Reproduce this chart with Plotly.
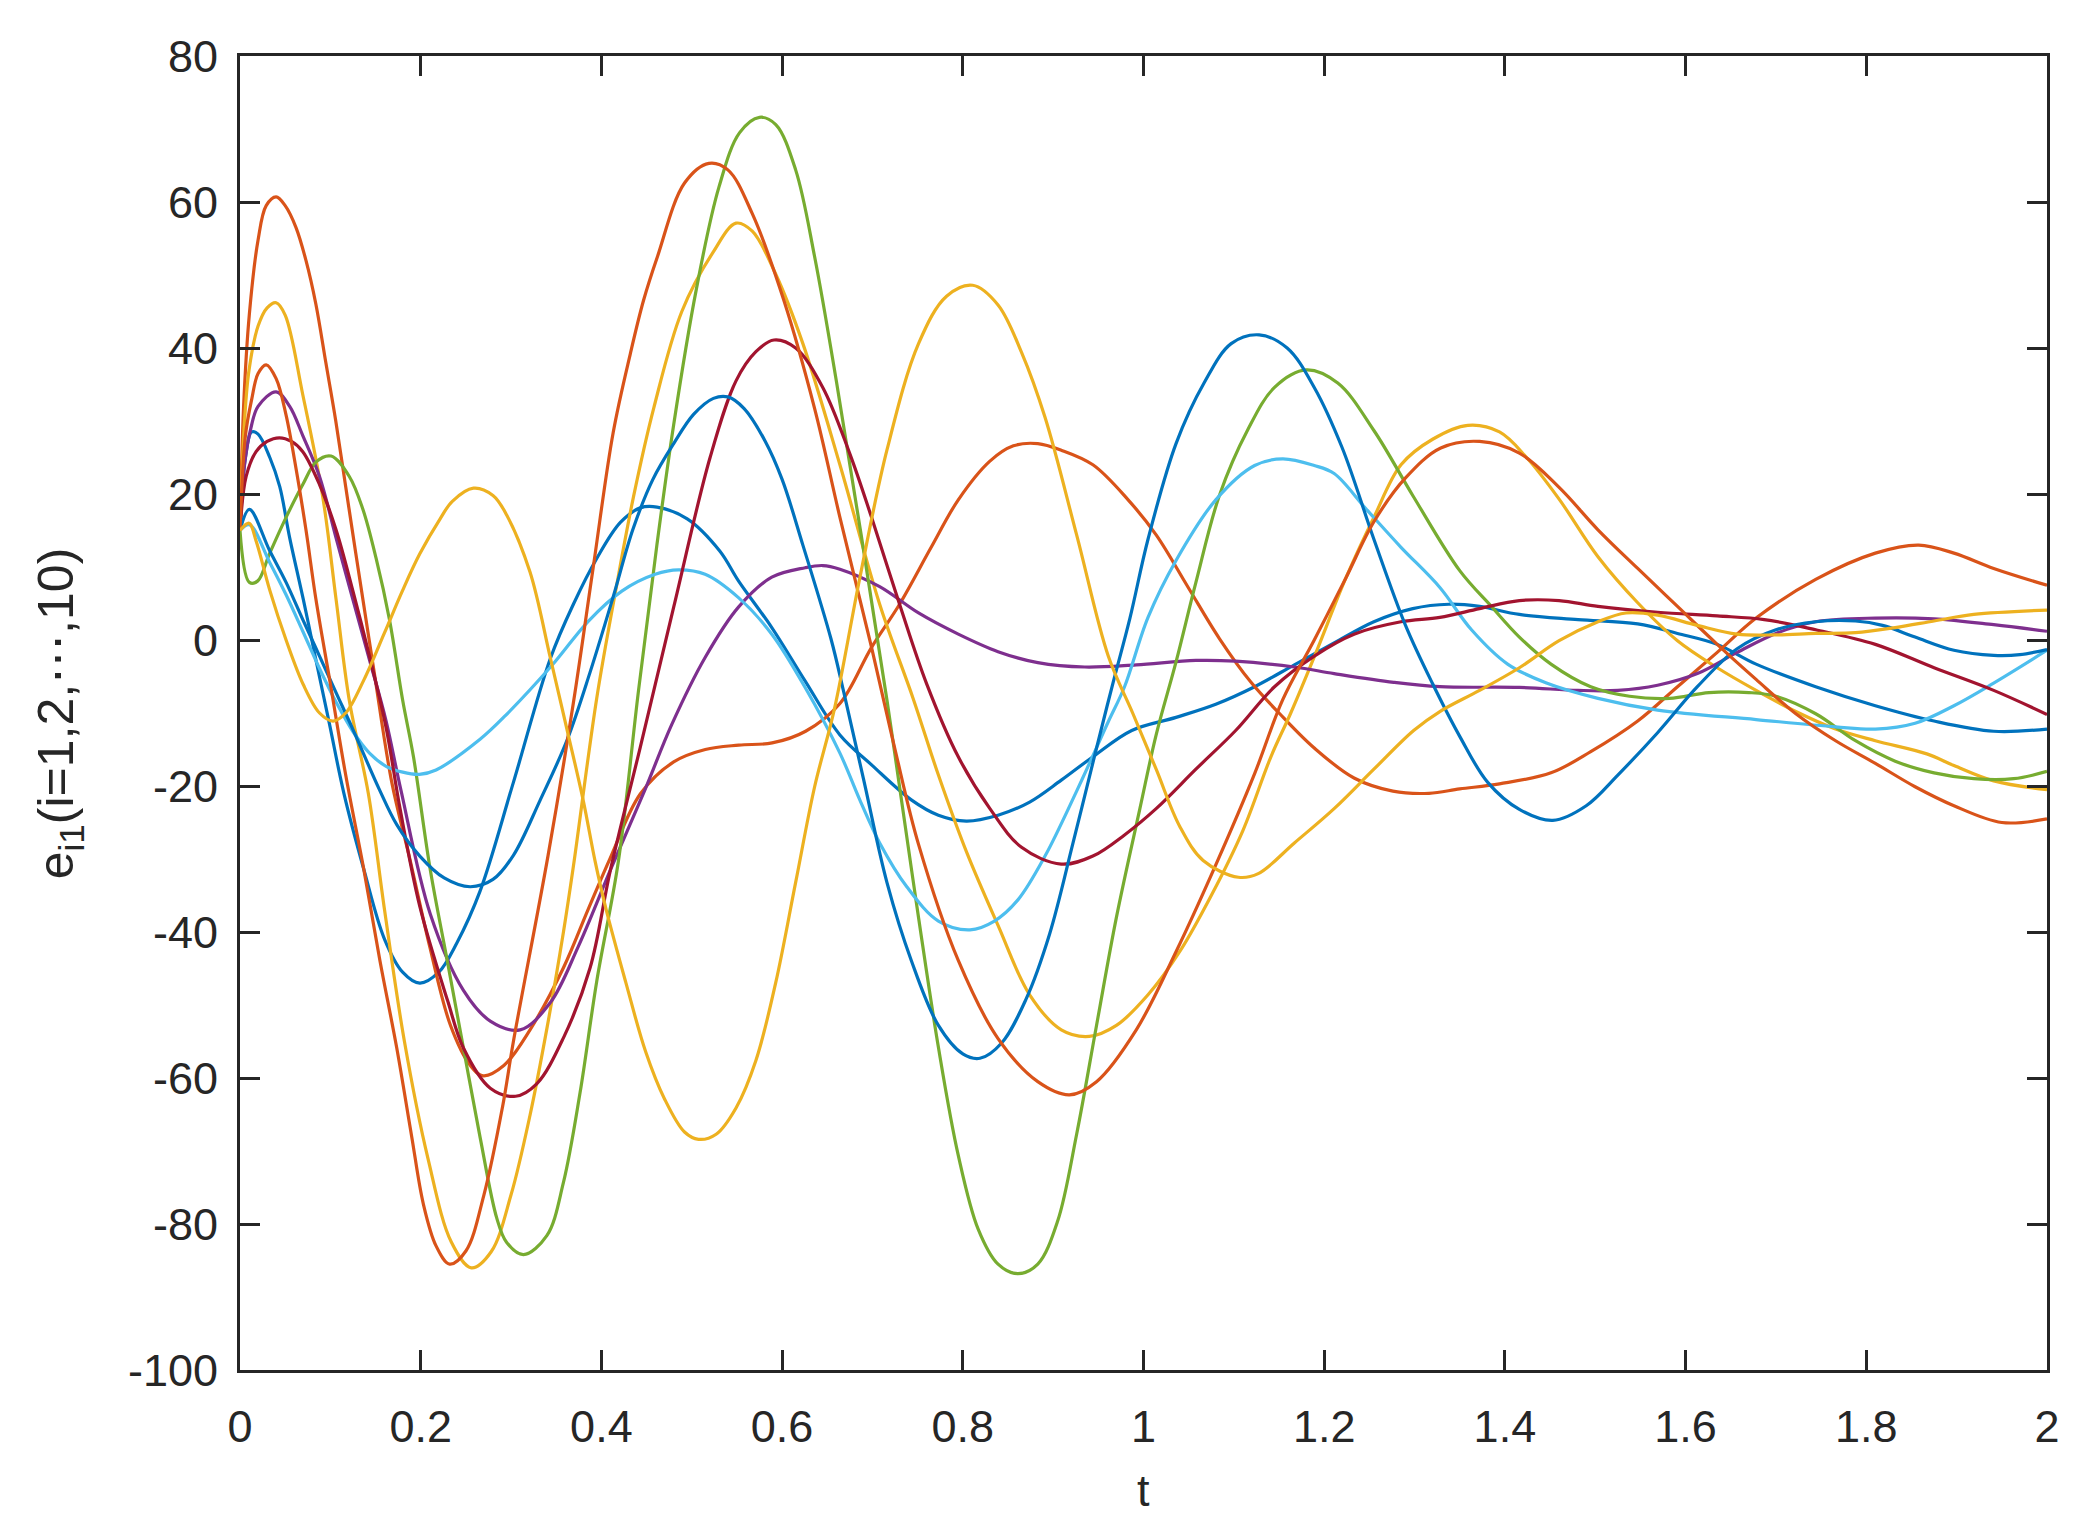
import plotly.graph_objects as go

# --- data: e_i1(t) for i = 1..10 ---
blue_a_t = [0, 0.006, 0.013, 0.02, 0.033, 0.044, 0.055, 0.07, 0.084, 0.099, 0.115, 0.137, 0.16, 0.18, 0.199,
            0.22, 0.24, 0.2657, 0.3026, 0.3436, 0.369, 0.395, 0.421, 0.443, 0.4615, 0.495, 0.531, 0.5517,
            0.5886, 0.6254, 0.664, 0.699, 0.743, 0.773, 0.804, 0.839, 0.874, 0.909, 0.944, 0.987, 1.036,
            1.08, 1.123, 1.167, 1.211, 1.255, 1.298, 1.338, 1.372, 1.416, 1.481, 1.547, 1.591, 1.635,
            1.678, 1.744, 1.81, 1.875, 1.941, 2.0]
blue_a_v = [15, 25, 28.5, 28.2, 25, 21, 14, 5.6, -2.7, -11.5, -21, -31.4, -41, -45.5, -47,
            -45.5, -41.5, -34.4, -19.5, -2.5, 4.9, 11.2, 16.1, 18.1, 18.2, 16.6, 12.2, 8.1,
            1.7, -5.6, -13, -17.1, -21.9, -24, -24.8, -24, -22.2, -19.2, -16, -12.4, -10.6,
            -8.8, -6.4, -3.4, -0.4, 2.5, 4.3, 4.9, 4.6, 3.5, 2.8, 2.2, 0.9, -0.6,
            -3.3, -6.4, -9, -11.1, -12.5, -12.2]

orange_a_t = [0, 0.004, 0.0104, 0.02, 0.029, 0.04, 0.05, 0.062, 0.073, 0.084, 0.095, 0.106, 0.117, 0.128,
              0.148, 0.168, 0.188, 0.21, 0.233, 0.255, 0.269, 0.292, 0.321, 0.358, 0.385, 0.41, 0.443, 0.48,
              0.515, 0.552, 0.589, 0.626, 0.664, 0.699, 0.73, 0.765, 0.795, 0.83, 0.856, 0.883, 0.909, 0.944,
              0.983, 1.014, 1.049, 1.084, 1.119, 1.15, 1.189, 1.233, 1.276, 1.316, 1.35, 1.394, 1.451, 1.495,
              1.547, 1.591, 1.635, 1.678, 1.744, 1.81, 1.858, 1.897, 1.941, 2.0]
orange_a_v = [15, 32, 44.7, 54.8, 59.5, 60.7, 59.5, 56.5, 52, 46, 38, 30, 21, 12,
              -4, -19.5, -30, -42, -52.8, -58.3, -59.7, -58.3, -53.4, -44.9, -37, -29.8, -21.1, -16.7,
              -15, -14.4, -14.1, -12.5, -8.7, -1, 4.9, 12.7, 19.2, 24.5, 26.6, 26.9, 26, 24,
              19.2, 14.4, 7.3, 0.2, -5.8, -10, -14.8, -18.9, -20.7, -21, -20.4, -19.7, -18.2, -15.3,
              -11.1, -6.4, -1.7, 3, 8.3, 11.9, 13, 11.9, 9.8, 7.5]

yellow_a_t = [0, 0.005, 0.01, 0.02, 0.03, 0.04, 0.05, 0.0695, 0.0916, 0.1063, 0.121, 0.142, 0.16, 0.182,
              0.208, 0.234, 0.256, 0.278, 0.30, 0.321, 0.34, 0.358, 0.369, 0.3948, 0.4166, 0.4355, 0.458,
              0.489, 0.523, 0.549, 0.567, 0.593, 0.623, 0.664, 0.708, 0.745, 0.773, 0.804, 0.839, 0.874,
              0.909, 0.94, 0.97, 1.005, 1.04, 1.075, 1.11, 1.141, 1.163, 1.19, 1.224, 1.255, 1.285, 1.32,
              1.359, 1.394, 1.424, 1.46, 1.503, 1.547, 1.591, 1.635, 1.678, 1.722, 1.766, 1.81, 1.867,
              1.897, 1.941, 2.0]
yellow_a_v = [15, 30, 37, 43, 45.5, 46.2, 44.5, 33.6, 19.6, 5.6, -8.3, -21, -37, -55,
              -71, -82.5, -86, -83.8, -76, -65.1, -53, -40, -31, -8, 7.3, 19.6, 31.8,
              45, 53, 57.1, 56, 50.1, 40.6, 24, 4.9, -8, -18.5, -29, -39.1, -48.6,
              -53.4, -54.3, -52.8, -48.6, -42.7, -35, -26.1, -16, -10, -2, 8.5, 16.8, 24, 27.5,
              29.4, 28.5, 25, 19.3, 11.4, 5.1, -0.1, -3.8, -6.9, -9.8, -12.2, -13.8, -15.6,
              -17.2, -19.3, -20.5]

purple_t = [0, 0.005, 0.012, 0.02, 0.04, 0.055, 0.0695, 0.088, 0.1063, 0.1248, 0.1433, 0.1617, 0.178,
            0.2105, 0.2473, 0.277, 0.31, 0.3433, 0.374, 0.41, 0.4483, 0.4778, 0.5148, 0.5517, 0.5886,
            0.6255, 0.645, 0.664, 0.708, 0.751, 0.795, 0.839, 0.883, 0.935, 0.992, 1.058, 1.102, 1.167,
            1.211, 1.277, 1.328, 1.416, 1.481, 1.525, 1.569, 1.613, 1.657, 1.70, 1.744, 1.81, 1.875,
            1.941, 2.0]
purple_v = [15, 24, 29, 32, 34, 32, 28, 22.4, 14, 5.6, -2.7, -11.1, -20.5,
            -37.5, -48, -52.2, -53.4, -49.7, -42.1, -31.5, -20.5, -11.6, -2.4, 4.5, 8.6,
            9.9, 10.2, 9.7, 7.3, 3.7, 0.8, -1.6, -3.1, -3.7, -3.4, -2.8, -2.9, -3.7,
            -4.6, -5.8, -6.4, -6.5, -6.9, -6.9, -6.2, -4.6, -1.7, 0.9, 2.5, 3, 2.9,
            2.1, 1.2]

green_t = [0, 0.0104, 0.0197, 0.0326, 0.051, 0.0695, 0.0842, 0.1008, 0.121, 0.136, 0.1506, 0.1654, 0.1801,
           0.192, 0.2105, 0.2289, 0.2473, 0.2657, 0.2842, 0.295, 0.3137, 0.3396, 0.358, 0.3764, 0.3949,
           0.4188, 0.441, 0.4614, 0.48, 0.505, 0.53, 0.553, 0.575, 0.593, 0.615, 0.636, 0.66, 0.716, 0.73,
           0.751, 0.773, 0.795, 0.817, 0.839, 0.861, 0.883, 0.905, 0.926, 0.948, 0.97, 0.996, 1.014,
           1.036, 1.058, 1.084, 1.115, 1.145, 1.18, 1.215, 1.255, 1.298, 1.35, 1.385, 1.416, 1.451,
           1.495, 1.538, 1.582, 1.626, 1.67, 1.70, 1.744, 1.788, 1.832, 1.875, 1.919, 1.963, 2.0]
green_v = [15, 7.9, 8.1, 11.8, 16.8, 21.3, 24.4, 25.2, 22.4, 17.9, 11.2, 2.8, -8.3,
           -16, -31.4, -43.6, -55.9, -68.1, -79.2, -82.5, -84.2, -81.6, -74.3, -62, -46.7,
           -30.3, -7, 13, 29.5, 48, 62, 69.5, 71.6, 70.6, 64.4, 52.5, 35.5, -8.2, -20.1,
           -38, -55.8, -70.6, -80.7, -85.5, -86.8, -85.5, -79.6, -67.7, -52.8, -38, -23.1, -13,
           -3, 7.9, 19.8, 28.7, 34.6, 37, 35.2, 28.7, 19.8, 9.5, 4.6, 0.4, -3.3,
           -6.4, -7.7, -8, -7.2, -7.2, -7.7, -10.1, -13.8, -16.6, -18.2, -19, -19, -18]

lightblue_t = [0, 0.0104, 0.0326, 0.051, 0.0695, 0.088, 0.1063, 0.1248, 0.1433, 0.1617, 0.1801, 0.1986,
               0.217, 0.2657, 0.2934, 0.3451, 0.3857, 0.4226, 0.4595, 0.4853, 0.5148, 0.5517,
               0.5886, 0.6255, 0.664, 0.686, 0.708, 0.738, 0.773, 0.808, 0.835, 0.861, 0.891, 0.926,
               0.961, 0.979, 1.005, 1.036, 1.08, 1.123, 1.154, 1.189, 1.211, 1.246, 1.285, 1.328, 1.363,
               1.403, 1.446, 1.503, 1.569, 1.678, 1.766, 1.81, 1.854, 1.897, 1.941, 2.0]
lightblue_v = [15, 15.8, 10.7, 6.2, 1.2, -3.9, -8.5, -12.5, -15.5, -17.3, -18.1, -18.4,
               -17.8, -13.6, -10.4, -3.5, 2.6, 6.7, 9, 9.6, 9, 5.8,
               0.8, -6.5, -15.5, -21.9, -27.8, -33.8, -38.5, -39.7, -38.5, -35.6, -29.6, -20.7,
               -11.2, -6.4, 3.1, 10.9, 19.2, 23.9, 24.8, 23.9, 22.8, 18, 12.7, 7.2, 1.4,
               -3.3, -5.9, -8, -9.6, -10.9, -11.9, -12.2, -11.4, -9, -5.9, -1.4]

darkred_t = [0, 0.0068, 0.0178, 0.03, 0.0436, 0.057, 0.0695, 0.088, 0.1063, 0.1248, 0.1433, 0.1617, 0.177,
             0.199, 0.23, 0.2473, 0.277, 0.305, 0.3284, 0.358, 0.3875, 0.41, 0.443, 0.48, 0.5203, 0.549,
             0.571, 0.591, 0.615, 0.645, 0.675, 0.699, 0.73, 0.76, 0.795, 0.83, 0.865, 0.909, 0.944, 0.979,
             1.014, 1.058, 1.102, 1.145, 1.189, 1.233, 1.285, 1.328, 1.372, 1.416, 1.46, 1.503, 1.569,
             1.635, 1.687, 1.744, 1.81, 1.875, 1.941, 2.0]
darkred_v = [15, 22.4, 25.8, 27.2, 27.7, 27.2, 25.8, 21.3, 15.1, 6.8, -2.2, -12, -23,
             -36.5, -49.5, -55.9, -61.4, -62.5, -60.8, -54.5, -44.9, -31.5, -14.7, 4.5, 25, 35.5,
             39.5, 41.1, 40, 34.6, 25.5, 16.8, 4.9, -6, -16, -23.1, -28.4, -30.7, -29.6, -26.7,
             -23.1, -17.7, -12.4, -6.4, -2.2, 0.8, 2.5, 3.1, 4.3, 5.4, 5.4, 4.6, 3.8,
             3.3, 2.8, 1.4, -0.6, -3.8, -6.9, -10.2]

blue_b_t = [0, 0.0104, 0.0326, 0.051, 0.0695, 0.088, 0.1063, 0.1248, 0.1543, 0.1735, 0.199, 0.226, 0.2547,
            0.28, 0.3026, 0.332, 0.362, 0.3875, 0.413, 0.435, 0.457, 0.48, 0.502, 0.524, 0.54, 0.558,
            0.581, 0.60, 0.623, 0.654, 0.668, 0.69, 0.716, 0.743, 0.773, 0.80, 0.819, 0.843, 0.87, 0.896,
            0.922, 0.948, 0.966, 0.985, 1.005, 1.036, 1.067, 1.097, 1.128, 1.159, 1.189, 1.22, 1.255,
            1.29, 1.32, 1.35, 1.381, 1.416, 1.453, 1.49, 1.525, 1.569, 1.613, 1.657, 1.70, 1.744, 1.788,
            1.818, 1.854, 1.897, 1.941, 1.97, 2.0]
blue_b_v = [15, 17.9, 12.3, 7.9, 2.8, -2.2, -7.2, -12.2, -20.5, -25.3, -29.6, -32.6, -33.8,
            -32.8, -29.5, -22, -13.7, -4.4, 5.9, 15.2, 22, 26.9, 30.9, 33.1, 33.3, 31.7,
            27.3, 22, 13, 0.2, -7, -19, -33.2, -43.9, -52.8, -56.7, -57.3, -55.2, -49.2, -40.3,
            -27.8, -14.8, -6, 3, 13.8, 26.9, 35.2, 40.6, 41.8, 40, 34.6, 26.3, 13.8,
            2, -6, -13.2, -19.5, -23.2, -24.7, -22.7, -18.5, -12.7, -6.4, -1.2, 1.4, 2.5, 2.6,
            2, 0.4, -1.4, -2.1, -2, -1.3]

orange_b_t = [0, 0.006, 0.013, 0.02, 0.029, 0.04, 0.051, 0.062, 0.073, 0.084, 0.1, 0.117, 0.137, 0.155,
              0.1735, 0.19, 0.203, 0.217, 0.232, 0.25, 0.27, 0.2905, 0.3026, 0.341, 0.369, 0.391, 0.413,
              0.432, 0.4466, 0.462, 0.492, 0.519, 0.54, 0.567, 0.602, 0.636, 0.664, 0.699, 0.725, 0.751,
              0.795, 0.839, 0.883, 0.918, 0.948, 0.992, 1.036, 1.08, 1.123, 1.154, 1.189, 1.224, 1.255,
              1.29, 1.329, 1.372, 1.416, 1.46, 1.503, 1.547, 1.591, 1.635, 1.678, 1.722, 1.766, 1.81,
              1.854, 1.897, 1.95, 2.0]
orange_b_v = [15, 28, 33, 36.5, 37.7, 35.8, 30.8, 23.5, 15.1, 5.6, -6, -18.5, -31.4, -44,
              -55.9, -68, -77.3, -83, -85.5, -83.7, -76, -64, -55, -29.5, -8.6, 10, 28.4,
              39.2, 46.5, 52.5, 62.6, 65.3, 64.4, 58.4, 46.5, 31.7, 16.8, -1, -15, -28,
              -43.9, -54.6, -60.5, -62.3, -60.5, -53.4, -42.7, -30.8, -18.3, -8.2, 0, 8.5, 16.2,
              22.2, 26.3, 27.2, 25.6, 20.9, 15.1, 9.8, 4.6, -0.6, -5.4, -10.1, -13.8, -16.9,
              -20.1, -22.7, -25, -24.5]

yellow_b_t = [0, 0.01, 0.018, 0.033, 0.051, 0.07, 0.088, 0.103, 0.117, 0.137, 0.16, 0.18, 0.199, 0.2215,
              0.235, 0.2584, 0.28, 0.2953, 0.321, 0.3436, 0.362, 0.3801, 0.393, 0.405, 0.427, 0.449, 0.47,
              0.492, 0.5075, 0.527, 0.549, 0.571, 0.593, 0.615, 0.636, 0.658, 0.686, 0.716, 0.751, 0.782,
              0.811, 0.839, 0.865, 0.891, 0.926, 0.961, 0.988, 1.014, 1.04, 1.066, 1.105, 1.127, 1.167,
              1.211, 1.255, 1.299, 1.328, 1.372, 1.416, 1.46, 1.503, 1.534, 1.569, 1.613, 1.657, 1.70,
              1.744, 1.788, 1.832, 1.875, 1.919, 2.0]
yellow_b_v = [15, 16, 13.5, 6.8, 0, -6.1, -10, -11.1, -10, -5.5, 1, 6.8, 11.8, 16.6,
              19, 20.8, 19.8, 17.1, 9.3, -2.5, -12.3, -22.1, -30.3, -36.8, -46.9, -56.4, -62.9,
              -67.4, -68.4, -67.7, -64.1, -57.6, -46.9, -33.2, -20.1, -9.4, 8.5, 26, 40.6, 47.1,
              48.6, 45.9, 39.4, 30.5, 14.4, -2.2, -10, -17.7, -25.5, -30.2, -32.5, -32, -27.8,
              -23.1, -17.7, -12.4, -9.8, -6.9, -3.8, -0.1, 2.5, 3.7, 3.4, 2, 0.8, 0.7,
              0.9, 1, 1.7, 2.6, 3.5, 4.1]

x_ticks = [0, 0.2, 0.4, 0.6, 0.8, 1, 1.2, 1.4, 1.6, 1.8, 2]
x_labels = ["0", "0.2", "0.4", "0.6", "0.8", "1", "1.2", "1.4", "1.6", "1.8", "2"]
y_ticks = [-100, -80, -60, -40, -20, 0, 20, 40, 60, 80]
y_labels = ["-100", "-80", "-60", "-40", "-20", "0", "20", "40", "60", "80"]

# MATLAB default line colour order
series = [
    (blue_a_t, blue_a_v, "#0072BD"),
    (orange_a_t, orange_a_v, "#D95319"),
    (yellow_a_t, yellow_a_v, "#EDB120"),
    (purple_t, purple_v, "#7E2F8E"),
    (green_t, green_v, "#77AC30"),
    (lightblue_t, lightblue_v, "#4DBEEE"),
    (darkred_t, darkred_v, "#A2142F"),
    (blue_b_t, blue_b_v, "#0072BD"),
    (orange_b_t, orange_b_v, "#D95319"),
    (yellow_b_t, yellow_b_v, "#EDB120"),
]

FONT = "Liberation Sans, Arial, Helvetica, sans-serif"
INK = "#262626"

fig = go.Figure()
for t, v, col in series:
    fig.add_trace(go.Scatter(x=t, y=v, mode="lines",
                             line=dict(color=col, width=3.2, shape="spline", smoothing=1.0),
                             showlegend=False, hoverinfo="skip"))

axis_style = dict(showline=True, linecolor=INK, linewidth=3, mirror="ticks",
                  ticks="inside", ticklen=20, tickwidth=2.5, tickcolor=INK,
                  showgrid=False, zeroline=False,
                  tickfont=dict(family=FONT, size=45, color=INK))

fig.update_xaxes(range=[0, 2], tickvals=x_ticks, ticktext=x_labels,
                 ticklabelstandoff=15, **axis_style)
fig.update_yaxes(range=[-100, 80], tickvals=y_ticks, ticktext=y_labels,
                 ticklabelstandoff=10, **axis_style)

# axis titles
fig.add_annotation(text="t", xref="paper", yref="paper", x=0.5, y=-0.092,
                   showarrow=False, xanchor="center", yanchor="middle",
                   font=dict(family=FONT, size=45, color=INK))
fig.add_annotation(text="e<sub>i1</sub>(i=1,2,⋯,10)", xref="paper", yref="paper",
                   x=-0.1, y=0.5, textangle=-90, showarrow=False,
                   xanchor="center", yanchor="middle",
                   font=dict(family=FONT, size=50, color=INK))

# the page body adds an 8px margin, so the figure is made 8px smaller
fig.update_layout(width=2084, height=1521,
                  margin=dict(l=232, r=45, t=48, b=159, autoexpand=False),
                  paper_bgcolor="white", plot_bgcolor="white")

fig.write_html("out.html")
